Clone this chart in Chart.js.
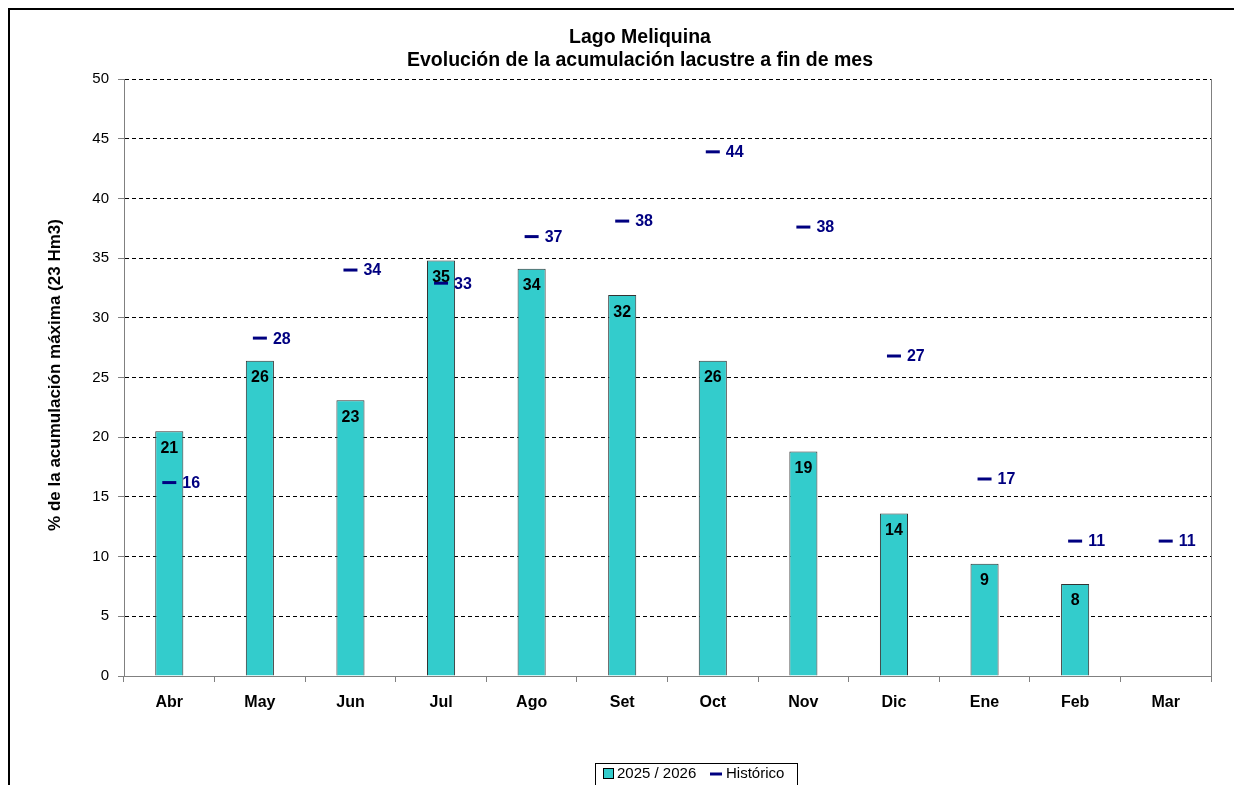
<!DOCTYPE html>
<html><head><meta charset="utf-8">
<script src="https://cdn.jsdelivr.net/npm/chart.js@4/dist/chart.umd.min.js"></script>
<style>html,body{margin:0;padding:0;background:#fff;}canvas{display:block;}</style>
</head><body>
<canvas id="c" width="1234" height="785"></canvas>
<script>
const categories = ['Abr','May','Jun','Jul','Ago','Set','Oct','Nov','Dic','Ene','Feb','Mar'];
const season = [20.5, 26.4, 23.1, 34.8, 34.1, 31.9, 26.4, 18.8, 13.6, 9.4, 7.7, null];
const historico = [16.2, 28.3, 34.0, 32.9, 36.8, 38.1, 43.9, 37.6, 26.8, 16.5, 11.3, 11.3];
const seriesNames = ['2025 / 2026', 'Histórico'];
const titleLines = ['Lago Meliquina', 'Evolución de la acumulación lacustre a fin de mes'];
const yTitle = '% de la acumulación máxima (23 Hm3)';

const FONT = '"Liberation Sans", Arial, sans-serif';
Chart.defaults.font.family = FONT;
Chart.defaults.color = '#000';

const decor = {
  id: 'decor',
  beforeDraw(chart) {
    const ctx = chart.ctx;
    ctx.save();
    ctx.fillStyle = '#fff';
    ctx.fillRect(0, 0, chart.width, chart.height);
    ctx.strokeStyle = '#000';
    ctx.lineWidth = 2;
    ctx.beginPath();
    ctx.moveTo(9, 800); ctx.lineTo(9, 9); ctx.lineTo(1240, 9);
    ctx.stroke();
    ctx.restore();
  },
  afterDraw(chart) {
    const ctx = chart.ctx;
    const a = chart.chartArea;
    ctx.save();
    ctx.strokeStyle = '#808080';
    ctx.lineWidth = 1;
    ctx.beginPath();
    ctx.moveTo(a.right + 0.5, a.top); ctx.lineTo(a.right + 0.5, a.bottom);
    ctx.stroke();
    // title
    ctx.fillStyle = '#000';
    ctx.textAlign = 'center';
    ctx.textBaseline = 'middle';
    ctx.font = 'bold 19.5px ' + FONT;
    ctx.fillText(titleLines[0], 640, 38);
    ctx.fillText(titleLines[1], 640, 61);
    // y title
    ctx.save();
    ctx.translate(55, 375);
    ctx.rotate(-Math.PI / 2);
    ctx.font = 'bold 17px ' + FONT;
    ctx.fillText(yTitle, 0, 0);
    ctx.restore();
    // data labels
    const m0 = chart.getDatasetMeta(0);
    ctx.font = 'bold 16px ' + FONT;
    ctx.textAlign = 'center';
    ctx.textBaseline = 'middle';
    ctx.fillStyle = '#000';
    m0.data.forEach((el, i) => {
      const v = season[i];
      if (v == null) return;
      ctx.fillText(String(Math.round(v)), el.x, el.y + 17);
    });
    const m1 = chart.getDatasetMeta(1);
    ctx.textAlign = 'left';
    ctx.fillStyle = '#000080';
    m1.data.forEach((el, i) => {
      const v = historico[i];
      if (v == null) return;
      ctx.fillText(String(Math.round(v)), el.x + 13, el.y + 1);
    });
    // legend
    const lx = 595, ly = 763, lw = 202;
    ctx.strokeStyle = '#000';
    ctx.lineWidth = 1;
    ctx.strokeRect(lx + 0.5, ly + 0.5, lw, 40);
    ctx.fillStyle = '#33CCCC';
    ctx.fillRect(603, 768, 10, 10);
    ctx.strokeRect(603.5, 768.5, 10, 10);
    ctx.font = '15px ' + FONT;
    ctx.fillStyle = '#000';
    ctx.textAlign = 'left';
    ctx.textBaseline = 'middle';
    ctx.fillText(seriesNames[0], 617, 774);
    ctx.strokeStyle = '#000080';
    ctx.lineWidth = 3;
    ctx.beginPath(); ctx.moveTo(710, 774); ctx.lineTo(722, 774); ctx.stroke();
    ctx.fillText(seriesNames[1], 726, 774);
    ctx.restore();
  }
};

new Chart(document.getElementById('c'), {
  data: {
    labels: categories,
    datasets: [
      {
        type: 'bar', label: seriesNames[0], data: season,
        backgroundColor: '#33CCCC', borderColor: '#333', borderWidth: 1,
        barPercentage: 0.31, categoryPercentage: 1.0, order: 2
      },
      {
        type: 'line', label: seriesNames[1], data: historico,
        showLine: false, pointStyle: 'line', pointRadius: 7, pointHoverRadius: 7,
        pointBorderWidth: 3, borderColor: '#000080', backgroundColor: '#000080', order: 1
      }
    ]
  },
  options: {
    responsive: false, animation: false, devicePixelRatio: 1,
    layout: { padding: { left: 0, top: 79, right: 23, bottom: 0 } },
    plugins: { legend: { display: false }, title: { display: false }, tooltip: { enabled: false } },
    scales: {
      x: {
        offset: true,
        grid: { offset: true, drawOnChartArea: false, drawTicks: true, tickLength: 6, tickColor: '#808080', color: '#808080' },
        border: { color: '#808080', width: 1 },
        ticks: { font: { size: 16, weight: 'bold' }, color: '#000', padding: 11, maxRotation: 0 },
        afterFit(s) { s.height = 109; }
      },
      y: {
        min: 0, max: 50,
        ticks: { stepSize: 5, font: { size: 15 }, color: '#000', padding: 9 },
        grid: {
          color: (c) => (c.tick && c.tick.value === 0) ? 'rgba(0,0,0,0)' : '#000',
          lineWidth: 1, tickLength: 6, tickColor: '#808080', tickBorderDash: []
        },
        border: { color: '#808080', width: 1, dash: [4, 3] },
        afterFit(s) { s.width = 124; }
      }
    }
  },
  plugins: [decor]
});
</script>
</body></html>
